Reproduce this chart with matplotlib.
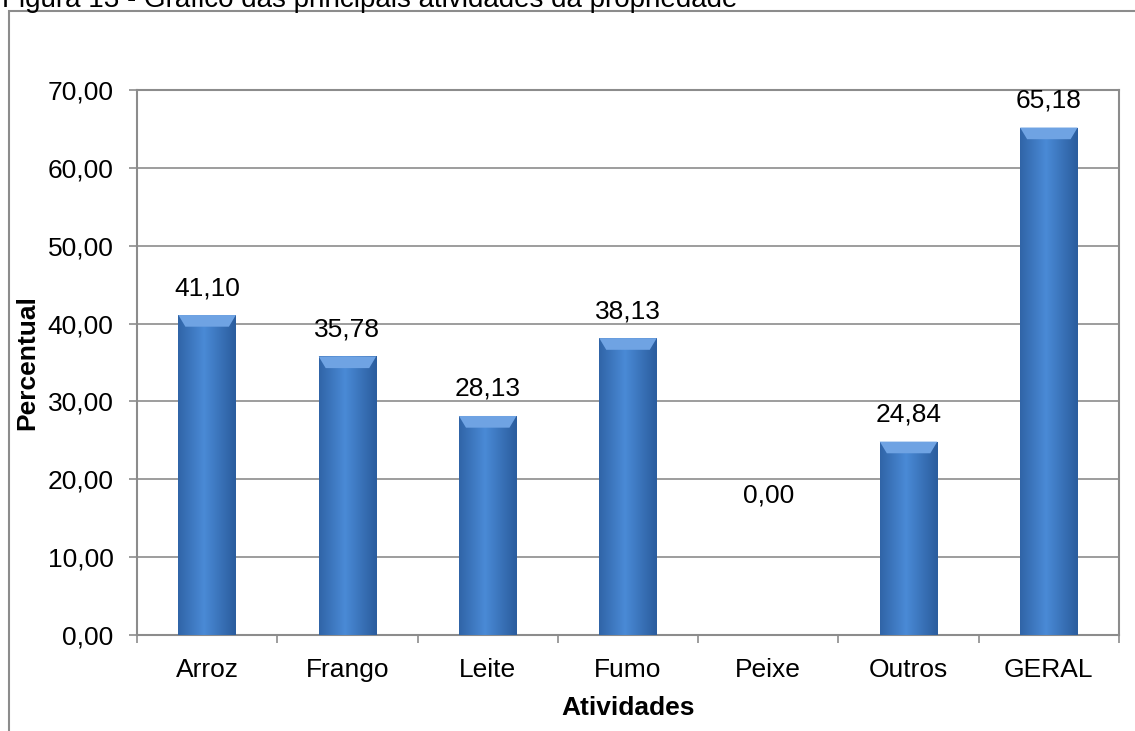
import matplotlib
matplotlib.use("Agg")
import matplotlib.pyplot as plt
import numpy as np
from matplotlib.patches import Rectangle, Polygon

plt.rcParams['font.family'] = ['Liberation Sans', 'DejaVu Sans']

categories = ["Arroz", "Frango", "Leite", "Fumo", "Peixe", "Outros", "GERAL"]
values = [41.10, 35.78, 28.13, 38.13, 0.00, 24.84, 65.18]
y_ticks = [0, 10, 20, 30, 40, 50, 60, 70]

W, H = 1135, 731
FS = 19
fig = plt.figure(figsize=(W / 100, H / 100), dpi=100)

# caption at the very top, mostly cut off as in the source
fig.text(2 / W, 1 - 7 / H, "Figura 13 - Gráfico das principais atividades da propriedade",
         fontsize=20, va='baseline', ha='left', color='black')

# outer frame (runs off the right and bottom edges)
fig.patches.append(Rectangle((8.5 / W, -0.1), 1.2, 1.1 - 10.5 / H, transform=fig.transFigure,
                             fill=False, edgecolor='#8c8c8c', linewidth=1.5))

ax = fig.add_axes([137 / W, 1 - 635 / H, (1119 - 137) / W, (635 - 90) / H])

x = np.arange(len(categories))
bar_w = 0.41
bars = ax.bar(x, values, width=bar_w, color='#3b78c3', zorder=3)

# horizontal gradient + bevel on each bar
grad = np.linspace(0, 1, 64)
shade = 1 - np.abs(grad - 0.45) * 1.1
cmap = matplotlib.colors.LinearSegmentedColormap.from_list("b", ["#2b5d9e", "#4a8ad6"])
for b, v in zip(bars, values):
    if v <= 0:
        continue
    x0, w = b.get_x(), b.get_width()
    img = ax.imshow(shade[np.newaxis, :], aspect='auto', cmap=cmap, vmin=0.4, vmax=1,
                    extent=(x0, x0 + w, 0, v), zorder=4)
    img.set_clip_path(b)
    bev = 1.5
    top = Polygon([(x0, v), (x0 + w, v), (x0 + w - 0.05, v - bev), (x0 + 0.05, v - bev)],
                  closed=True, facecolor='#6fa3e3', edgecolor='none', zorder=5)
    ax.add_patch(top)

for xi, v in zip(x, values):
    off = 27 if v > 0 else 140
    ax.annotate(f"{v:.2f}".replace('.', ','), (xi, v), xytext=(0, off),
                textcoords='offset pixels', ha='center', va='center', fontsize=FS)

ax.set_ylim(0, 70)
ax.set_xlim(-0.5, len(categories) - 0.5)
ax.set_yticks(y_ticks)
ax.set_yticklabels([f"{t:.2f}".replace('.', ',') for t in y_ticks], fontsize=FS)
ax.set_xticks(x)
ax.set_xticklabels(categories, fontsize=FS)
ax.set_xticks(np.arange(len(categories) + 1) - 0.5, minor=True)
ax.tick_params(axis='x', which='major', length=0, pad=16.5)
ax.tick_params(axis='x', which='minor', length=6, color='#8c8c8c', width=1.2)
ax.tick_params(axis='y', length=6, color='#8c8c8c', width=1.2, pad=11)

ax.grid(axis='y', color='#8c8c8c', linewidth=1.2, zorder=0)
for s in ax.spines.values():
    s.set_color('#8c8c8c')
    s.set_linewidth(1.5)

ax.set_xlabel("Atividades", fontsize=FS, fontweight='bold', labelpad=10)
ax.set_ylabel("Percentual", fontsize=FS, fontweight='bold', labelpad=6)

fig.savefig("out.png", dpi=100)
